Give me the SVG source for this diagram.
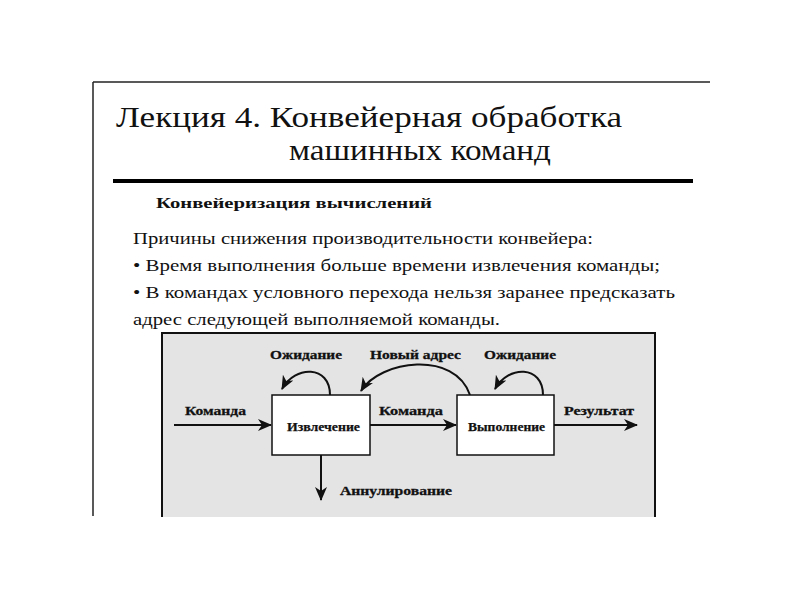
<svg xmlns="http://www.w3.org/2000/svg" width="800" height="600" viewBox="0 0 800 600">
<style>
  .serif { font-family: "Liberation Serif", "DejaVu Serif", serif; fill: #111; }
  .title { font-size: 30px; }
  .sub { font-size: 15.5px; font-weight: bold; }
  .body { font-size: 17.5px; }
  .lbl { font-size: 13px; font-weight: bold; stroke: #111; stroke-width: 0.3; }
  .inbox { font-size: 12.5px; font-weight: bold; stroke: #111; stroke-width: 0.25; }
  .line { stroke: #111; stroke-width: 2; fill: none; }
  .node rect { fill: #fff; stroke: #111; stroke-width: 1.5; }
</style>
<defs>
  <marker id="arr" markerWidth="14" markerHeight="12" refX="13" refY="6" orient="auto" markerUnits="userSpaceOnUse">
    <path d="M0,0 L14,6 L0,12 L4,6 z" fill="#111"/>
  </marker>
</defs>
<rect width="800" height="600" fill="#fff"/>
<!-- slide frame -->
<line x1="93" y1="82" x2="710" y2="82" stroke="#222" stroke-width="1.5"/>
<line x1="93" y1="82" x2="93" y2="516" stroke="#222" stroke-width="1.5"/>
<line x1="113" y1="181" x2="693" y2="181" stroke="#000" stroke-width="4"/>

<text class="serif title" x="116" y="127" textLength="506" lengthAdjust="spacingAndGlyphs">Лекция 4.  Конвейерная обработка</text>
<text class="serif title" x="289" y="160" textLength="262" lengthAdjust="spacingAndGlyphs">машинных команд</text>
<text class="serif sub" x="156" y="208" textLength="276" lengthAdjust="spacingAndGlyphs">Конвейеризация вычислений</text>
<text class="serif body" x="133" y="244" textLength="460" lengthAdjust="spacingAndGlyphs">Причины снижения производительности конвейера:</text>
<text class="serif body" x="133" y="271" textLength="527" lengthAdjust="spacingAndGlyphs">• Время выполнения больше времени извлечения команды;</text>
<text class="serif body" x="133" y="298" textLength="542" lengthAdjust="spacingAndGlyphs">• В командах условного перехода нельзя заранее предсказать</text>
<text class="serif body" x="133" y="325" textLength="367" lengthAdjust="spacingAndGlyphs">адрес следующей выполняемой команды.</text>

<!-- diagram panel -->
<rect x="162" y="333" width="493" height="184" fill="#e4e4e4"/>
<path d="M162,517 L162,333 L655,333 L655,517" fill="none" stroke="#111" stroke-width="2"/>

<g id="connectors">
  <line class="line" x1="174" y1="425" x2="271" y2="425" marker-end="url(#arr)"/>
  <line class="line" x1="370" y1="425" x2="456" y2="425" marker-end="url(#arr)"/>
  <line class="line" x1="554" y1="425" x2="637" y2="425" marker-end="url(#arr)"/>
  <line class="line" x1="321" y1="455" x2="321" y2="500" marker-end="url(#arr)"/>
  <path class="line" d="M330,395 C330,365 295,365 282,389" marker-end="url(#arr)"/>
  <path class="line" d="M470,395 C455,350 380,360 361,391" marker-end="url(#arr)"/>
  <path class="line" d="M543,395 C543,365 508,365 495,389" marker-end="url(#arr)"/>
  <text class="serif lbl" x="185" y="415" textLength="61" lengthAdjust="spacingAndGlyphs">Команда</text>
  <text class="serif lbl" x="379" y="415" textLength="64" lengthAdjust="spacingAndGlyphs">Команда</text>
  <text class="serif lbl" x="564" y="415" textLength="70" lengthAdjust="spacingAndGlyphs">Результат</text>
  <text class="serif lbl" x="270" y="359" textLength="72" lengthAdjust="spacingAndGlyphs">Ожидание</text>
  <text class="serif lbl" x="370" y="359" textLength="91" lengthAdjust="spacingAndGlyphs">Новый адрес</text>
  <text class="serif lbl" x="484" y="359" textLength="72" lengthAdjust="spacingAndGlyphs">Ожидание</text>
  <text class="serif lbl" x="340" y="495" textLength="112" lengthAdjust="spacingAndGlyphs">Аннулирование</text>
</g>

<g id="izvlechenie" class="node">
  <rect x="272" y="395" width="98" height="60"/>
  <text class="serif inbox" x="287" y="431" textLength="73" lengthAdjust="spacingAndGlyphs">Извлечение</text>
</g>
<g id="vypolnenie" class="node">
  <rect x="457" y="395" width="97" height="60"/>
  <text class="serif inbox" x="468" y="431" textLength="77" lengthAdjust="spacingAndGlyphs">Выполнение</text>
</g>
</svg>
